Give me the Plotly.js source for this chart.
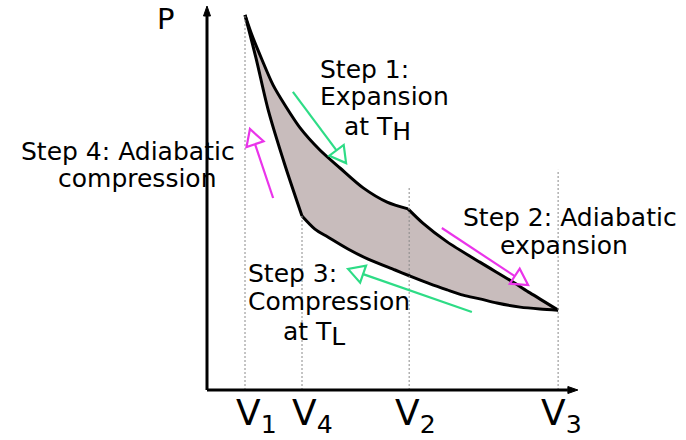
<!DOCTYPE html>
<html>
<head>
<meta charset="utf-8">
<script src="https://cdn.plot.ly/plotly-3.0.1.min.js"></script>
<style>html,body{margin:0;padding:0;background:#fff}</style>
</head>
<body>
<div id="chart" style="width:686px;height:440px"></div>
<script>
// Carnot cycle on a P-V diagram (arbitrary units)

// Step 1: isothermal expansion at T_H (V1 -> V2)
const isoHotV = [1.00, 1.18, 1.45, 1.74, 2.05, 2.45, 2.97, 3.50, 4.11, 4.74, 5.29];
const isoHotP = [10.00, 9.47, 8.80, 8.13, 7.60, 6.99, 6.40, 5.92, 5.39, 5.01, 4.83];

// Step 2: adiabatic expansion (V2 -> V3)
const adiaExpV = [5.29, 5.68, 6.32, 7.18, 8.05, 8.50, 9.24];
const adiaExpP = [4.83, 4.45, 3.95, 3.41, 2.88, 2.59, 2.13];

// Step 3: isothermal compression at T_L (V3 -> V4)
const isoColdV = [9.24, 8.76, 8.24, 7.63, 7.18, 6.74, 6.32, 5.87, 5.34, 4.95, 4.24, 3.71, 3.18, 2.84, 2.50];
const isoColdP = [2.13, 2.16, 2.21, 2.32, 2.43, 2.53, 2.67, 2.83, 3.04, 3.20, 3.49, 3.76, 4.08, 4.29, 4.64];

// Step 4: adiabatic compression (V4 -> V1)
const adiaCompV = [2.50, 2.05, 1.61, 1.29, 1.00];
const adiaCompP = [4.64, 6.00, 7.47, 8.85, 10.00];

// Volume markers on the V axis
const volNames = ['V<sub>1</sub>', 'V<sub>4</sub>', 'V<sub>2</sub>', 'V<sub>3</sub>'];
const volAt    = [1.00, 2.50, 5.32, 9.24];
const volTop   = [10.00, 4.64, 5.39, 5.87];

// Direction arrows for each step: tail and tip (V, P)
const arrowTailV = [2.26, 6.18, 6.97, 1.74];
const arrowTailP = [7.95, 4.32, 2.08, 5.12];
const arrowTipV  = [3.66, 8.45, 3.71, 1.13];
const arrowTipP  = [6.05, 2.80, 3.23, 6.96];
const arrowColor = ['#2edc86', '#ea34ea', '#2edc86', '#ea34ea'];

// Axis extents (arrow tips)
const axisEndV = 9.76;
const axisEndP = 10.24;

// ---- layout geometry ----
const W = 686, H = 440;
const M = {l: 188, r: 99, t: 0, b: 35};
const xr = [-0.5, 10.0];
const yr = [-0.4, 10.4];
const SX = (W - M.l - M.r) / (xr[1] - xr[0]);   // px per V unit
const SY = (H - M.t - M.b) / (yr[1] - yr[0]);   // px per P unit
const px = v => (v - xr[0]) / (xr[1] - xr[0]);
const py = p => (p - yr[0]) / (yr[1] - yr[0]);

const FONT = 'DejaVu Sans';
const INK = '#000';
const FILL = '#c8bcbc';
const TXT = 25;

// closed cycle for the shaded area
const cycV = [].concat(isoHotV, adiaExpV.slice(1), isoColdV.slice(1), adiaCompV.slice(1));
const cycP = [].concat(isoHotP, adiaExpP.slice(1), isoColdP.slice(1), adiaCompP.slice(1));

const traces = [{
  x: cycV, y: cycP, mode: 'lines', fill: 'toself', fillcolor: FILL,
  line: {width: 0, color: FILL}, hoverinfo: 'skip', showlegend: false
}];
[[isoHotV, isoHotP], [adiaExpV, adiaExpP], [isoColdV, isoColdP], [adiaCompV, adiaCompP]]
  .forEach(([v, p]) => traces.push({
    x: v, y: p, mode: 'lines',
    line: {color: INK, width: 3, shape: 'spline', smoothing: 0.8},
    hoverinfo: 'skip', showlegend: false
  }));

const shapes = [];

// dotted guides from the V axis up to the cycle
volAt.forEach((v, i) => shapes.push({
  type: 'line', xref: 'x', yref: 'y', x0: v, x1: v, y0: 0, y1: volTop[i],
  line: {color: '#8a8a8a', width: 1, dash: '2px,2px'}, layer: 'above'
}));

// axes with solid arrowheads
const axHead = 10, axHalf = 3.5;
shapes.push({type: 'line', xref: 'x', yref: 'y', x0: 0, y0: 0, x1: 0, y1: axisEndP - axHead / SY,
  line: {color: INK, width: 3}});
shapes.push({type: 'line', xref: 'x', yref: 'y', x0: 0, y0: 0, x1: axisEndV - axHead / SX, y1: 0,
  line: {color: INK, width: 3}});
shapes.push({type: 'path', xref: 'x', yref: 'y',
  path: `M ${0} ${axisEndP} L ${-axHalf / SX} ${axisEndP - axHead / SY} L ${axHalf / SX} ${axisEndP - axHead / SY} Z`,
  fillcolor: INK, line: {color: INK, width: 1}});
shapes.push({type: 'path', xref: 'x', yref: 'y',
  path: `M ${axisEndV} ${0} L ${axisEndV - axHead / SX} ${axHalf / SY} L ${axisEndV - axHead / SX} ${-axHalf / SY} Z`,
  fillcolor: INK, line: {color: INK, width: 1}});

// step arrows: shaft plus open triangular head
const headLen = 16, headHalf = 9;
arrowTipV.forEach((tv, i) => {
  const tp = arrowTipP[i];
  const dx = (tv - arrowTailV[i]) * SX, dy = (tp - arrowTailP[i]) * SY;
  const L = Math.hypot(dx, dy), ux = dx / L, uy = dy / L;
  const bV = tv - ux * headLen / SX, bP = tp - uy * headLen / SY;
  const c1V = bV - uy * headHalf / SX, c1P = bP + ux * headHalf / SY;
  const c2V = bV + uy * headHalf / SX, c2P = bP - ux * headHalf / SY;
  shapes.push({type: 'line', xref: 'x', yref: 'y', x0: arrowTailV[i], y0: arrowTailP[i], x1: bV, y1: bP,
    line: {color: arrowColor[i], width: 2.2}, layer: 'above'});
  shapes.push({type: 'path', xref: 'x', yref: 'y',
    path: `M ${tv} ${tp} L ${c1V} ${c1P} L ${c2V} ${c2P} Z`,
    fillcolor: 'rgba(0,0,0,0)', line: {color: arrowColor[i], width: 2.2}, layer: 'above'});
});

// text labels
const ann = [];
function label(text, v, p, size, xanchor) {
  ann.push({text, x: px(v), y: py(p), xref: 'paper', yref: 'paper',
    xanchor: xanchor || 'left', yanchor: 'middle', showarrow: false,
    font: {family: FONT, size, color: INK}});
}
const SUBH = '<sub><span style="font-size:25px">H</span></sub>';
const SUBL = '<sub><span style="font-size:25px">L</span></sub>';

label('P', -1.08, 9.89, 29, 'center');
label('Step 1:', 2.93, 8.56, TXT);
label('Expansion', 2.93, 7.82, TXT);
label('at T' + SUBH, 3.55, 6.96, TXT);
label('Step 2: Adiabatic', 9.55, 4.60, TXT, 'center');
label('expansion', 9.39, 3.85, TXT, 'center');
label('Step 3:', 1.03, 3.12, TXT);
label('Compression', 1.03, 2.35, TXT);
label('at T' + SUBL, 1.95, 1.49, TXT);
label('Step 4: Adiabatic', -2.09, 6.35, TXT, 'center');
label('compression', -1.82, 5.63, TXT, 'center');

const volLabelV = [0.72, 2.19, 4.90, 8.74];
volNames.forEach((t, i) => label(t, volLabelV[i], -0.67, 36));

const layout = {
  width: W, height: H, margin: M,
  paper_bgcolor: '#fff', plot_bgcolor: '#fff',
  xaxis: {range: xr, visible: false, fixedrange: true},
  yaxis: {range: yr, visible: false, fixedrange: true},
  shapes, annotations: ann, showlegend: false
};

Plotly.newPlot('chart', traces, layout, {staticPlot: true, displayModeBar: false});
</script>
</body>
</html>
